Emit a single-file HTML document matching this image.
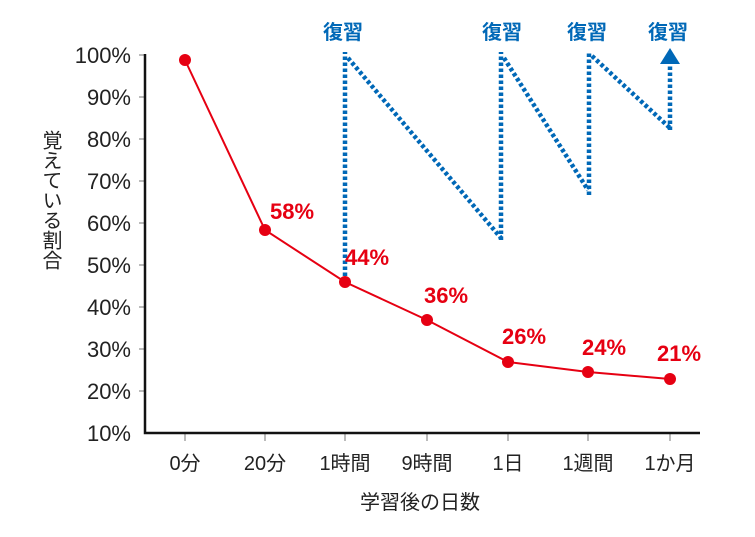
<!DOCTYPE html>
<html><head><meta charset="utf-8"><style>
body{margin:0;background:#fff}
svg text{font-family:"Liberation Sans","Noto Sans CJK JP",sans-serif}
</style></head><body>
<svg width="755" height="532" xmlns="http://www.w3.org/2000/svg">
<g stroke="#bbb" stroke-width="2">
<line x1="139" y1="55" x2="145" y2="55"/><line x1="139" y1="97" x2="145" y2="97"/><line x1="139" y1="139" x2="145" y2="139"/><line x1="139" y1="181" x2="145" y2="181"/><line x1="139" y1="223" x2="145" y2="223"/><line x1="139" y1="265" x2="145" y2="265"/><line x1="139" y1="307" x2="145" y2="307"/><line x1="139" y1="349" x2="145" y2="349"/><line x1="139" y1="391" x2="145" y2="391"/>
<line x1="185" y1="434" x2="185" y2="441"/><line x1="265" y1="434" x2="265" y2="441"/><line x1="345" y1="434" x2="345" y2="441"/><line x1="427" y1="434" x2="427" y2="441"/><line x1="508" y1="434" x2="508" y2="441"/><line x1="588" y1="434" x2="588" y2="441"/><line x1="670" y1="434" x2="670" y2="441"/>
</g>
<polyline points="145,54 145,433 700,433" fill="none" stroke="#111" stroke-width="2.5"/>
<g font-size="22" fill="#222" text-anchor="end">
<text x="131" y="63">100%</text><text x="131" y="105">90%</text><text x="131" y="147">80%</text><text x="131" y="189">70%</text><text x="131" y="231">60%</text><text x="131" y="273">50%</text><text x="131" y="315">40%</text><text x="131" y="357">30%</text><text x="131" y="399">20%</text><text x="131" y="441">10%</text>
</g>
<g font-size="20" fill="#222" text-anchor="middle">
<text x="185" y="470">0分</text><text x="265" y="470">20分</text><text x="345" y="470">1時間</text><text x="427" y="470">9時間</text><text x="508" y="470">1日</text><text x="588" y="470">1週間</text><text x="670" y="470">1か月</text>
<text x="420" y="509">学習後の日数</text>
</g>
<text x="50" y="130" font-size="20" fill="#222" style="writing-mode:vertical-rl">覚えている割合</text>
<g stroke="#0068b7" stroke-width="4.5" stroke-dasharray="3.5,2.5" fill="none">
<line x1="345" y1="282" x2="345" y2="52"/>
<line x1="348" y1="58" x2="501" y2="238"/>
<line x1="501" y1="240" x2="501" y2="52"/>
<line x1="504" y1="58" x2="588" y2="190"/>
<line x1="589" y1="195" x2="589" y2="52"/>
<line x1="592" y1="56" x2="670" y2="128"/>
<line x1="670" y1="130" x2="670" y2="64"/>
</g>
<polygon points="660,64 680,64 670,48" fill="#0068b7"/>
<g font-size="20" font-weight="bold" fill="#0068b7" text-anchor="middle">
<text x="343" y="39">復習</text><text x="502" y="39">復習</text><text x="587" y="39">復習</text><text x="668" y="39">復習</text>
</g>
<polyline points="185,60 265,230 345,282 427,320 508,362 588,372 670,379" fill="none" stroke="#e60012" stroke-width="2"/>
<g fill="#e60012">
<circle cx="185" cy="60" r="6"/><circle cx="265" cy="230" r="6"/><circle cx="345" cy="282" r="6"/><circle cx="427" cy="320" r="6"/><circle cx="508" cy="362" r="6"/><circle cx="588" cy="372" r="6"/><circle cx="670" cy="379" r="6"/>
</g>
<g font-size="22" font-weight="bold" fill="#e60012">
<text x="270" y="219">58%</text><text x="345" y="265">44%</text><text x="424" y="303">36%</text><text x="502" y="344">26%</text><text x="582" y="355">24%</text><text x="657" y="361">21%</text>
</g>
</svg>
</body></html>
